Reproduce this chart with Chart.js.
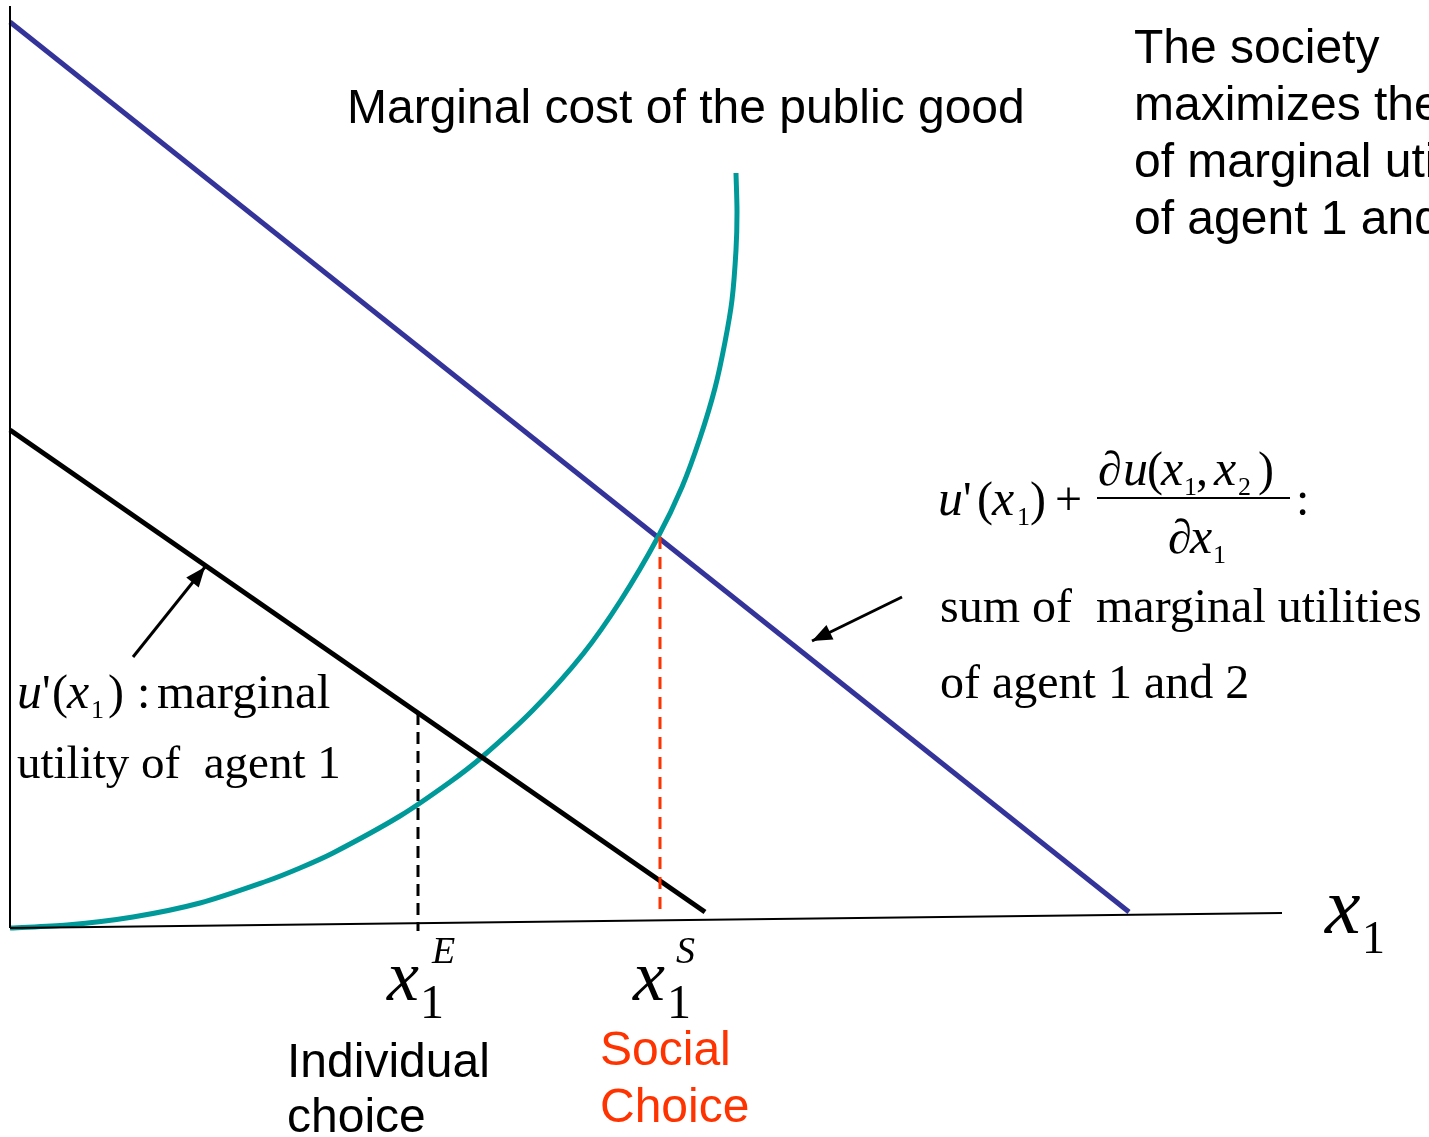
<!DOCTYPE html>
<html>
<head>
<meta charset="utf-8">
<script src="https://cdn.jsdelivr.net/npm/chart.js@4.4.1/dist/chart.umd.min.js"></script>
<style>
  html, body { margin: 0; padding: 0; background: #fff; overflow: hidden; }
  #wrap { width: 1429px; height: 1137px; }
</style>
</head>
<body>
<div id="wrap"><canvas id="chart" width="1429" height="1137"></canvas></div>
<script>
// quantity of public good (x1) on the horizontal, marginal values on the vertical
const yAxisX = [0, 0];
const yAxisY = [0, 92.2];
const xAxisX = [0, 127.2];
const xAxisY = [0, 1.5];

// u'(x1) + du/dx1 : sum of marginal utilities
const sumMuX = [0, 111.9];
const sumMuY = [90.6, 1.6];

// u'(x1) : marginal utility of agent 1
const muX = [0, 69.5];
const muY = [49.8, 1.6];

// marginal cost of the public good
const mcX = [0, 5.7, 12.3, 19.0, 25.7, 29.0, 32.3, 39.0, 44.0, 47.2, 52.3, 57.3, 61.1, 64.8, 67.2, 69.0, 70.5, 71.5, 72.2, 72.6, 72.7, 72.6];
const mcY = [0, 0.3, 1.1, 2.5, 4.7, 6.0, 7.5, 11.2, 14.6, 17.1, 21.8, 27.4, 32.8, 39.1, 44.1, 49.0, 54.0, 58.6, 62.8, 67.8, 71.6, 75.5];

// individual (E) and social (S) choice
const xE = 40.8;
const xEY = [21.5, -0.3];
const xS = 65.0;
const xSY = [39.1, 1.5];

// annotation arrows [tail, tip]
const arrowMuX = [12.3, 19.5];
const arrowMuY = [27.1, 36.1];
const arrowSumX = [89.2, 80.2];
const arrowSumY = [33.1, 28.7];

const pts = (xs, ys) => xs.map((x, i) => ({ x: x, y: ys[i] }));

const SANS = '"Liberation Sans", Arial, sans-serif';
const SERIF = '"Liberation Serif", "Times New Roman", serif';
const BLUE = '#333399';
const TEAL = '#009999';
const RED = '#ff3300';

function line(data, color, width, extra) {
    return Object.assign({
        data: data,
        showLine: true,
        borderColor: color,
        backgroundColor: color,
        borderWidth: width,
        pointRadius: 0,
        tension: 0,
        fill: false
    }, extra || {});
}

// arrow heads at the last point of datasets flagged with arrowHead
const arrowHeads = {
    id: 'arrowHeads',
    afterDatasetsDraw(chart) {
        const ctx = chart.ctx;
        chart.data.datasets.forEach((ds, i) => {
            if (!ds.arrowHead) return;
            const els = chart.getDatasetMeta(i).data;
            const a = els[els.length - 2], b = els[els.length - 1];
            const ang = Math.atan2(b.y - a.y, b.x - a.x);
            const len = 20, half = 8;
            ctx.save();
            ctx.fillStyle = ds.borderColor;
            ctx.translate(b.x, b.y);
            ctx.rotate(ang);
            ctx.beginPath();
            ctx.moveTo(0, 0);
            ctx.lineTo(-len, -half);
            ctx.lineTo(-len, half);
            ctx.closePath();
            ctx.fill();
            ctx.restore();
        });
    }
};

// text runs: [dx, text, font, dy]
function drawRuns(ctx, x, y, parts, color) {
    ctx.fillStyle = color || '#000';
    parts.forEach(p => {
        ctx.font = p[2];
        ctx.fillText(p[1], x + p[0], y + (p[3] || 0));
    });
}

const it = s => 'italic ' + s + 'px ' + SERIF;
const rm = s => s + 'px ' + SERIF;
const sans = '48px ' + SANS;

const labels = {
    id: 'labels',
    afterDraw(chart) {
        const ctx = chart.ctx;
        const sx = chart.scales.x, sy = chart.scales.y;
        const P = (x, y) => [sx.getPixelForValue(x), sy.getPixelForValue(y)];
        ctx.save();
        ctx.textBaseline = 'alphabetic';
        ctx.textAlign = 'left';

        let p = P(33.7, 80.5);
        drawRuns(ctx, p[0], p[1], [[0, 'Marginal cost of the public good', sans]]);

        const society = ['The society', 'maximizes the sum', 'of marginal utilities', 'of agent 1 and 2'];
        [86.5, 80.8, 75.1, 69.4].forEach((yy, i) => {
            const q = P(112.4, yy);
            drawRuns(ctx, q[0], q[1], [[0, society[i], sans]]);
        });

        // u'(x1) + du(x1,x2)/dx1 :
        p = P(92.8, 41.3);
        drawRuns(ctx, p[0], p[1], [
            [0, 'u', it(50)], [25, "'", rm(48)], [39, '(', rm(48)], [54, 'x', it(50)],
            [79, '1', rm(26), 10], [92, ')', rm(48)], [117, '+', rm(48)],
            [160, '\u2202', it(48), -30], [185, 'u', it(50), -30], [209, '(', rm(48), -30],
            [223, 'x', it(50), -30], [246, '1', rm(26), -20], [258, ',', rm(48), -30],
            [276, 'x', it(50), -30], [300, '2', rm(26), -20], [320, ')', rm(48), -30],
            [230, '\u2202', it(48), 38], [252, 'x', it(50), 38], [275, '1', rm(26), 48],
            [358, ':', rm(48)]
        ]);
        ctx.fillRect(p[0] + 159, p[1] - 18, 193, 2);

        p = P(93.0, 30.6);
        drawRuns(ctx, p[0], p[1], [[0, 'sum of  marginal utilities', rm(48)]]);
        p = P(93.0, 23.0);
        drawRuns(ctx, p[0], p[1], [[0, 'of agent 1 and 2', rm(48)]]);

        // u'(x1) : marginal utility of agent 1
        p = P(0.7, 22.0);
        drawRuns(ctx, p[0], p[1], [
            [0, 'u', it(50)], [25, "'", rm(48)], [35, '(', rm(48)], [50, 'x', it(50)],
            [74, '1', rm(26), 10], [91, ')', rm(48)], [120, ':', rm(48)], [140, 'marginal', rm(49)]
        ]);
        p = P(0.7, 15.0);
        drawRuns(ctx, p[0], p[1], [[0, 'utility of  agent 1', rm(47)]]);

        // axis label x1
        p = P(131.5, -0.5);
        drawRuns(ctx, p[0], p[1], [[0, 'x', it(80)], [37, '1', rm(46), 20]]);

        // x1^E and x1^S
        p = P(37.7, -7.2);
        drawRuns(ctx, p[0], p[1], [[0, 'x', it(72)], [33, '1', rm(48), 18], [45, 'E', it(38), -37]]);
        p = P(62.3, -7.2);
        drawRuns(ctx, p[0], p[1], [[0, 'x', it(72)], [34, '1', rm(48), 18], [43, 'S', it(38), -37]]);

        p = P(27.7, -14.9);
        drawRuns(ctx, p[0], p[1], [[0, 'Individual', sans]]);
        p = P(27.7, -20.4);
        drawRuns(ctx, p[0], p[1], [[0, 'choice', sans]]);
        p = P(59.0, -13.7);
        drawRuns(ctx, p[0], p[1], [[0, 'Social', sans]], RED);
        p = P(59.0, -19.4);
        drawRuns(ctx, p[0], p[1], [[0, 'Choice', sans]], RED);
        ctx.restore();
    }
};

new Chart(document.getElementById('chart'), {
    type: 'scatter',
    data: {
        datasets: [
            line(pts(yAxisX, yAxisY), '#000', 2),
            line(pts(xAxisX, xAxisY), '#000', 2),
            line(pts([xE, xE], xEY), '#000', 3, { borderDash: [12, 7] }),
            line(pts([xS, xS], xSY), RED, 3, { borderDash: [12, 8] }),
            line(pts(muX, muY), '#000', 5),
            line(pts(mcX, mcY), TEAL, 5, { tension: 0.3 }),
            line(pts(sumMuX, sumMuY), BLUE, 5),
            line(pts(arrowMuX, arrowMuY), '#000', 3, { arrowHead: true }),
            line(pts(arrowSumX, arrowSumY), '#000', 3, { arrowHead: true })
        ]
    },
    options: {
        responsive: false,
        animation: false,
        events: [],
        layout: { padding: 0 },
        plugins: { legend: { display: false }, tooltip: { enabled: false } },
        scales: {
            x: { type: 'linear', min: -1, max: 141.9, display: false },
            y: { type: 'linear', min: -20.9, max: 92.8, display: false }
        }
    },
    plugins: [arrowHeads, labels]
});
</script>
</body>
</html>
